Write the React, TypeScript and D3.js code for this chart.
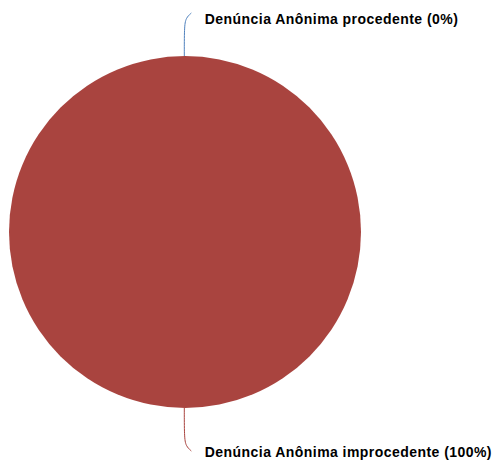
import React from "react";
import * as d3 from "d3";

const categories = ["Denúncia Anônima procedente", "Denúncia Anônima improcedente"];
const values = [0, 100];
const percentLabels = ["0%", "100%"];
const sliceColors = ["#4F81BD", "#A9443F"];
const leaderColors = ["#4F81BD", "#A9443F"];

const W = 492;
const H = 460;
const cx = 185;
const cy = 232;
const R = 176;

export default function App() {
  const pie = d3.pie<number>().sort(null).value((d) => d)(values);
  const arc = d3.arc<d3.PieArcDatum<number>>().innerRadius(0).outerRadius(R);

  const leaders = pie.map((p, i) => {
    const mid = (p.startAngle + p.endAngle) / 2;
    const ang = i === 0 ? p.startAngle : mid;
    const sx = cx + R * Math.sin(ang) - 0.7;
    const sy = cy - R * Math.cos(ang);
    const dir = sy < cy ? -1 : 1;
    const pts: [number, number][] = [
      [sx, sy],
      [sx, sy + dir * 29],
      [sx + 1.5, sy + dir * 38],
      [sx + 7, sy + dir * 43],
    ];
    const line = d3.line().curve(d3.curveBasis)(pts) || "";
    const tx = sx + 20.5;
    const ty = i === 0 ? 24 : 457;
    return { line, tx, ty, color: leaderColors[i], text: `${categories[i]} (${percentLabels[i]})` };
  });

  return (
    <svg width={W} height={H} style={{ position: "absolute", left: 0, top: 0 }}>
      <rect width={W} height={H} fill="#fff" />
      <g transform={`translate(${cx},${cy})`}>
        {pie.map((p, i) => (
          <path key={i} d={arc(p) || ""} fill={sliceColors[i]} />
        ))}
      </g>
      {leaders.map((l, i) => (
        <g key={i}>
          <path d={l.line} fill="none" stroke={l.color} strokeWidth={1} />
          <text
            x={l.tx}
            y={l.ty}
            fontFamily="Liberation Sans, Arial, sans-serif"
            fontWeight="bold"
            fontSize={14}
            letterSpacing={0.45}
            fill="#000"
          >
            {l.text}
          </text>
        </g>
      ))}
    </svg>
  );
}
